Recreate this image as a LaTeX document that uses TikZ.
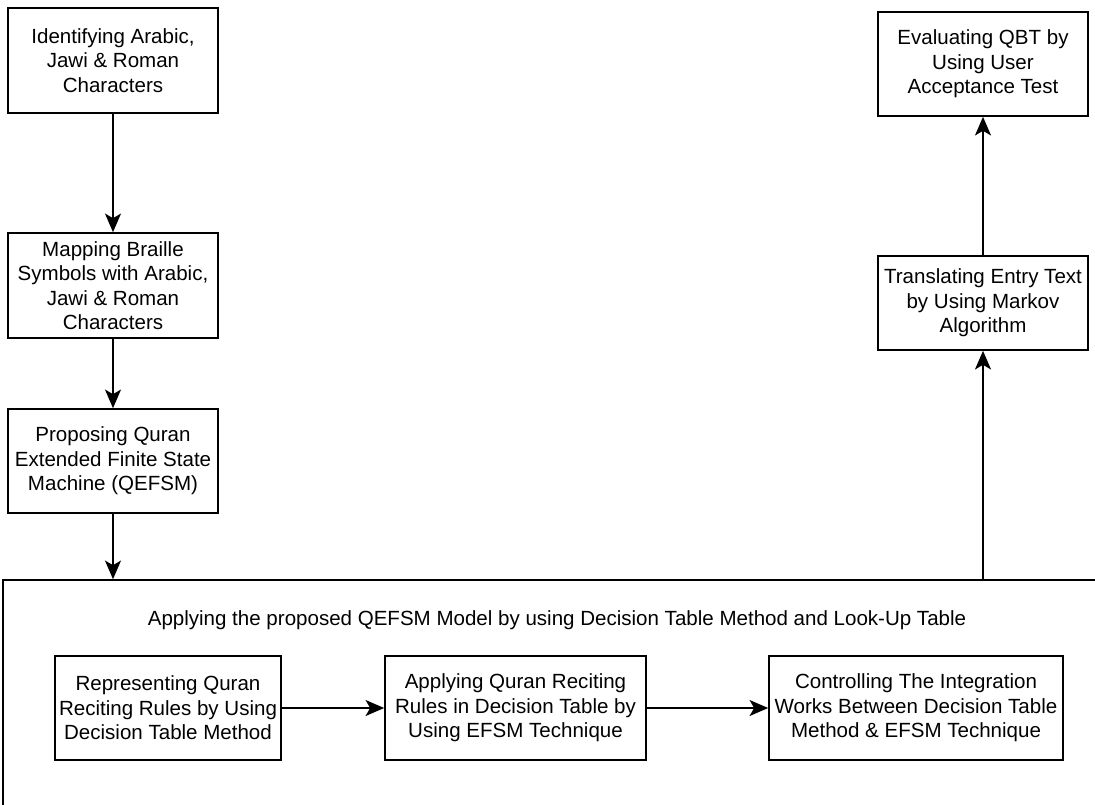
\documentclass[tikz,border=0pt]{standalone}
\usepackage{fontspec}
\setmainfont{Liberation Sans}
\usetikzlibrary{arrows.meta}

\begin{document}
\begin{tikzpicture}[x=0.75pt, y=-0.75pt,
    stage/.style={draw, line width=1.2pt, align=center, inner sep=0pt,
        minimum width=157.5pt, minimum height=78.75pt,
        font=\fontsize{15.4}{18.4}\selectfont},
    flow/.style={-{Stealth[length=14pt, width=12pt, inset=3.5pt]}, line width=1.2pt}]
\useasboundingbox (0,0) rectangle (1095,804);
\clip (0,0) rectangle (1095,804);

% Left column
\node[stage] (identify) at (113, 60.5) {Identifying Arabic,\\Jawi \& Roman\\Characters};
\node[stage] (mapping) at (113, 285.5) {Mapping Braille\\Symbols with Arabic,\\Jawi \& Roman\\Characters};
\node[stage, minimum height=78pt] (proposing) at (113, 461) {Proposing Quran\\Extended Finite State\\Machine (QEFSM)};

% Applying block
\node[draw, line width=1.2pt, minimum width=830pt, minimum height=180pt, inner sep=0pt] (applying) at (556.5, 700) {};
\node[font=\fontsize{15.4}{18.4}\selectfont] (title) at (557, 620)
    {Applying the proposed QEFSM Model by using Decision Table Method and Look-Up Table};
\node[stage, minimum width=169.5pt, minimum height=78pt] (represent) at (168, 708)
    {Representing Quran\\Reciting Rules by Using\\Decision Table Method};
\node[stage, minimum width=195.75pt, minimum height=78pt] (recite) at (515.5, 708)
    {Applying Quran Reciting\\Rules in Decision Table by\\Using EFSM Technique};
\node[stage, minimum width=220.5pt, minimum height=78pt] (control) at (916, 708)
    {Controlling The Integration\\Works Between Decision Table\\Method \& EFSM Technique};

% Right column
\node[stage, minimum height=70.5pt] (translate) at (983, 303) {Translating Entry Text\\by Using Markov\\Algorithm};
\node[stage, minimum height=78pt] (evaluate) at (983, 64) {Evaluating QBT by\\Using User\\Acceptance Test};

% Connectors
\draw[flow] (identify) -- (mapping);
\draw[flow] (mapping) -- (proposing);
\draw[flow] (proposing) -- (proposing |- applying.north);
\draw[flow] (represent) -- (recite);
\draw[flow] (recite) -- (control);
\draw[flow] (translate |- applying.north) -- (translate);
\draw[flow] (translate) -- (evaluate);

\end{tikzpicture}
\end{document}
